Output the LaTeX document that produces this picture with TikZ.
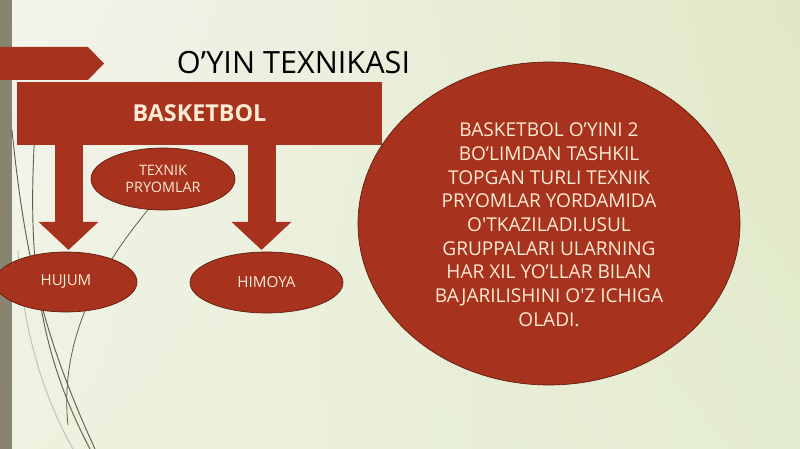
\documentclass[tikz,border=0pt]{standalone}
\usepackage{fontspec}
\setmainfont{Open Sans}
\usetikzlibrary{shapes.geometric,arrows.meta,shadings}
\definecolor{slidered}{RGB}{167,50,29}
\definecolor{slidecream}{RGB}{253,235,211}
\definecolor{stripgray}{RGB}{137,132,112}
\definecolor{wisp}{RGB}{95,96,76}
\definecolor{bgtl}{RGB}{243,244,237}
\definecolor{bgtr}{RGB}{225,232,198}
\definecolor{bgbl}{RGB}{238,242,224}
\definecolor{bgbr}{RGB}{228,236,208}

\begin{document}
\begin{tikzpicture}[x=0.75pt,y=-0.75pt]
\tikzstyle{every node}+=[inner sep=0pt]
\tikzstyle{redoval}=[ellipse,fill=slidered,draw=slidered!55!black,line width=0.5pt,text=slidecream,align=center]
\tikzstyle{bigarrow}=[slidered,line width=21pt,-{Triangle[width=43.5pt,length=21pt]}]
\useasboundingbox (0,0) rectangle (800,449);
\shade [upper left=bgtl,upper right=bgtr,lower left=bgbl,lower right=bgbr] (0,0) rectangle (800,449);
\fill [stripgray] (0,0) rectangle (12,449);
\draw [wisp,line width=0.7pt] (12,130) .. controls (25,260) and (45,340) .. (95,449);
\draw [wisp,line width=0.7pt] (35,130) .. controls (27,260) and (38,350) .. (90,449);
\draw [wisp!40,line width=0.7pt] (18,250) .. controls (22,330) and (45,400) .. (73,449);
\draw [wisp,line width=0.6pt] (152,205) .. controls (110,255) and (58,330) .. (68,425);
\fill [slidered] (0,47) -- (88,47) -- (104,63.5) -- (88,80) -- (0,80) -- cycle;
\node (title) at (293.5,62.5) {\fontsize{23}{27}\selectfont O’YIN TEXNIKASI};
\node (bask) [fill=slidered,minimum width=273.75pt,minimum height=47.25pt,text=slidecream,
  font=\bfseries\fontsize{17.5}{21}\selectfont] at (199.5,113.5) {BASKETBOL};
\coordinate (ltip) at (68.5,250);
\coordinate (rtip) at (261.5,250);
\draw [bigarrow] (ltip |- bask.south) -- (ltip);
\draw [bigarrow] (rtip |- bask.south) -- (rtip);
\node (texnik) [redoval,minimum width=108pt,minimum height=46.5pt,font=\fontsize{10.8}{12.75}\selectfont]
  at (163,179) {TEXNIK\\PRYOMLAR};
\node (hujum) [redoval,minimum width=106.5pt,minimum height=45pt,font=\fontsize{11.3}{13.5}\selectfont]
  at (66,282) {HUJUM};
\node (himoya) [redoval,minimum width=114.75pt,minimum height=45.75pt,font=\fontsize{11.4}{13.5}\selectfont]
  at (266.5,282.5) {HIMOYA};
\node (info) [redoval,minimum width=286.5pt,minimum height=242.25pt] at (549,223.5) {};
\node (infotext) [text=slidecream,align=center,font=\fontsize{14.3}{17.8}\selectfont,anchor=north]
  at (549,122.5) {BASKETBOL O’YINI 2\\BO’LIMDAN TASHKIL\\TOPGAN TURLI TEXNIK\\PRYOMLAR YORDAMIDA\\
  O\textquotesingle TKAZILADI.USUL\\GRUPPALARI ULARNING\\HAR XIL YO’LLAR BILAN\\BAJARILISHINI O\textquotesingle Z ICHIGA\\OLADI.};
\end{tikzpicture}
\end{document}
